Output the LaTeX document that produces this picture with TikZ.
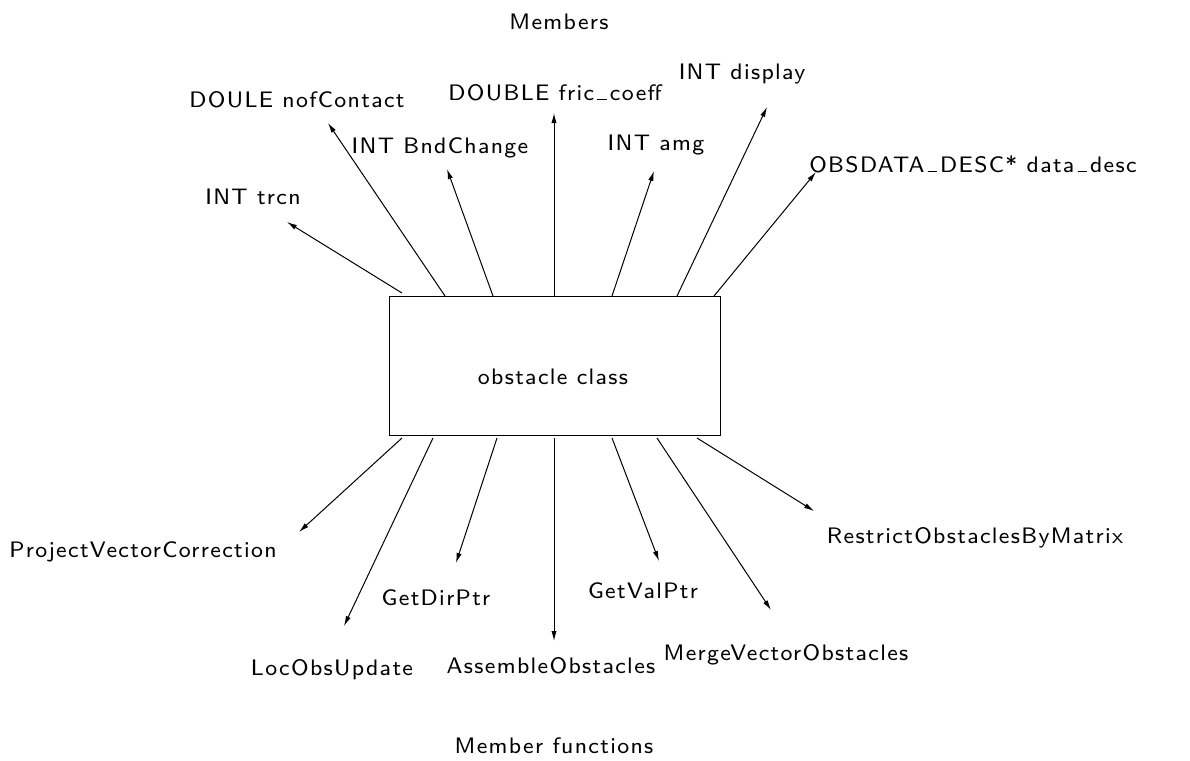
\documentclass[tikz,border=0pt]{standalone}
\usepackage{fontspec}
\usetikzlibrary{arrows.meta}
\newfontfamily\labelfont{lmsans8-regular.otf}[LetterSpace=6]
% low rule used for the underscores in identifiers
\newcommand\uscore{\kern0.14em\rule{0.42em}{0.45pt}\kern0.14em}
\begin{document}
\begin{tikzpicture}[x=0.5pt,y=-0.5pt,
  every node/.style={font=\labelfont\fontsize{11.2}{13.5}\selectfont, inner sep=0pt},
  lbl/.style={anchor=base},
  link/.style={line width=0.5pt, -{Latex[length=5pt,width=2.6pt]}}]
\useasboundingbox (0,0) rectangle (1190,761);
\fill[white] (0,0) rectangle (1190,761);

% central class box
\node[draw, line width=0.5pt, minimum width=165.5pt, minimum height=69.5pt] (box) at (554.5,365.5) {};
\node[lbl] (boxlbl) at (553,384) {obstacle class};

% section titles
\node[lbl] (members) at (559,29) {Members};
\node[lbl] (memfun) at (554,753) {Member functions};

% data members
\node[lbl] (trcn) at (253,204) {INT trcn};
\node[lbl] (nof) at (297,107) {DOULE nofContact};
\node[lbl] (bnd) at (440,153) {INT BndChange};
\node[lbl] (fric) at (555,100) {DOUBLE fric\uscore coeff};
\node[lbl] (amg) at (656,150) {INT amg};
\node[lbl] (disp) at (742,79) {INT display};
\node[lbl] (desc) at (973,172) {OBSDATA\uscore DESC* data\uscore desc};

% member functions
\node[lbl] (pvc) at (143,557) {ProjectVectorCorrection};
\node[lbl] (loc) at (332,675) {LocObsUpdate};
\node[lbl] (dir) at (436,605) {GetDirPtr};
\node[lbl] (asm) at (551,673) {AssembleObstacles};
\node[lbl] (val) at (643,598) {GetValPtr};
\node[lbl] (merge) at (786,660) {MergeVectorObstacles};
\node[lbl] (restr) at (975,543) {RestrictObstaclesByMatrix};

% arrow starts on the box and arrow tips
\coordinate (s1) at (402,293);  \coordinate (t1) at (287,222);
\coordinate (s2) at (445,296);  \coordinate (t2) at (328,123);
\coordinate (s3) at (493,296);  \coordinate (t3) at (447,169);
\coordinate (s4) at (554,296);  \coordinate (t4) at (554,113);
\coordinate (s5) at (612,296);  \coordinate (t5) at (654,171);
\coordinate (s6) at (677,296);  \coordinate (t6) at (767,107);
\coordinate (s7) at (714,296);  \coordinate (t7) at (816,172);

\coordinate (b1) at (402,438);  \coordinate (u1) at (299,532);
\coordinate (b2) at (433,438);  \coordinate (u2) at (344,626);
\coordinate (b3) at (497,438);  \coordinate (u3) at (456,563);
\coordinate (b4) at (554,438);  \coordinate (u4) at (554,641);
\coordinate (b5) at (612,438);  \coordinate (u5) at (659,561);
\coordinate (b6) at (657,438);  \coordinate (u6) at (771,610);
\coordinate (b7) at (697,438);  \coordinate (u7) at (814,511);

\foreach \i in {1,...,7} {
  \draw[link] (s\i) -- (t\i);
  \draw[link] (b\i) -- (u\i);
}
\end{tikzpicture}
\end{document}
